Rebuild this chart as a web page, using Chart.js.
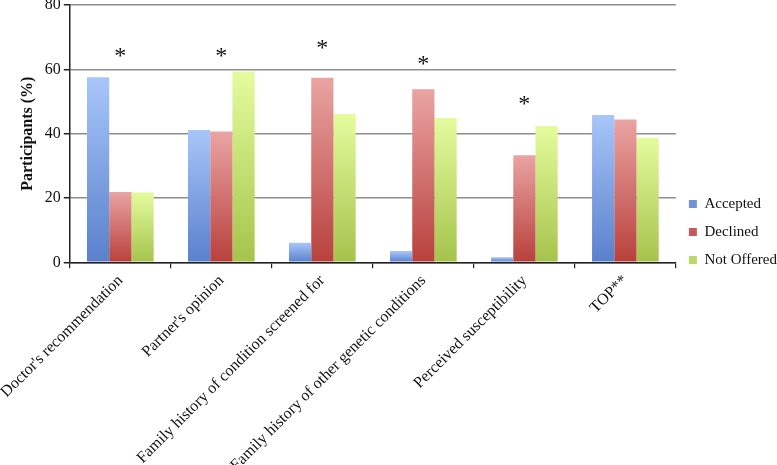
<!DOCTYPE html>
<html>
<head>
<meta charset="utf-8">
<script src="https://cdn.jsdelivr.net/npm/chart.js@4"></script>
<style>
  html, body { margin: 0; padding: 0; background: #fff; }
  #wrap { width: 777px; height: 465px; }
</style>
</head>
<body>
<div id="wrap"><canvas id="myChart"></canvas></div>
<script>
// donnees
const categories = [
  "Doctor's recommendation",
  "Partner's opinion",
  "Family history of condition screened for",
  "Family history of other genetic conditions",
  "Perceived susceptibility",
  "TOP**"
];
const accepted = [57.5, 41.1, 6.1, 3.5, 1.6, 45.8];
const declined = [21.9, 40.7, 57.4, 53.8, 33.3, 44.4];
const notOffered = [21.8, 59.3, 46.1, 44.9, 42.4, 38.7];
// position des asterisques (en %)
const starValues = [65.5, 65.5, 68, 63, 50.7, null];
const yTicks = [0, 20, 40, 60, 80];

const serif = "'Liberation Serif', 'DejaVu Serif', serif";

// degrade par barre : clair en haut, fonce en bas
function barGradient(top, bottom) {
  return function (ctx) {
    const chart = ctx.chart;
    const yScale = chart.scales.y;
    if (!yScale || ctx.parsed == null) return bottom;
    const y0 = yScale.getPixelForValue(ctx.parsed.y);
    const y1 = yScale.getPixelForValue(0);
    if (!isFinite(y0) || !isFinite(y1) || y0 === y1) return bottom;
    const g = chart.ctx.createLinearGradient(0, y0, 0, y1);
    g.addColorStop(0, top);
    g.addColorStop(1, bottom);
    return g;
  };
}

const starPlugin = {
  id: "stars",
  afterDatasetsDraw(chart) {
    const c = chart.ctx;
    c.save();
    c.fillStyle = "#111";
    c.font = "24px " + serif;
    c.textAlign = "center";
    c.textBaseline = "middle";
    starValues.forEach(function (v, i) {
      if (v == null) return;
      const x = chart.scales.x.getPixelForValue(i);
      const y = chart.scales.y.getPixelForValue(v);
      c.fillText("*", x, y + 5);
    });
    c.restore();
  }
};

const myChart = new Chart(document.getElementById("myChart"), {
  type: "bar",
  data: {
    labels: categories,
    datasets: [
      {
        label: "Accepted",
        data: accepted,
        backgroundColor: barGradient("#a8c6fa", "#5a80cc")
      },
      {
        label: "Declined",
        data: declined,
        backgroundColor: barGradient("#eaa4a3", "#b8403c")
      },
      {
        label: "Not Offered",
        data: notOffered,
        backgroundColor: barGradient("#e4fc9e", "#a6c34c")
      }
    ]
  },
  options: {
    responsive: true,
    maintainAspectRatio: false,
    animation: false,
    categoryPercentage: 0.66,
    barPercentage: 1.0,
    layout: { padding: { top: -14, right: -10, left: 0, bottom: -13 } },
    plugins: {
      tooltip: { enabled: false },
      legend: {
        position: "right",
        align: "center",
        labels: {
          boxWidth: 8,
          boxHeight: 8,
          padding: 13,
          color: "#111",
          font: { family: serif, size: 15 },
          generateLabels: function (chart) {
            const cols = ["#6f93da", "#c9585a", "#bcd86a"];
            return chart.data.datasets.map(function (ds, i) {
              return {
                text: ds.label,
                fillStyle: cols[i],
                strokeStyle: cols[i],
                lineWidth: 0,
                datasetIndex: i,
                fontColor: "#111"
              };
            });
          }
        }
      }
    },
    scales: {
      x: {
        afterFit: function (scale) {
          scale.paddingLeft = Math.max(0, scale.paddingLeft - 4);
        },
        grid: {
          drawOnChartArea: false,
          drawTicks: true,
          tickLength: 6,
          color: "#222",
          lineWidth: 1.2
        },
        border: { color: "#222", width: 1.5 },
        ticks: {
          autoSkip: false,
          minRotation: 45,
          maxRotation: 45,
          color: "#111",
          font: { family: serif, size: 16 }
        }
      },
      y: {
        min: 0,
        max: 80,
        afterBuildTicks: function (scale) {
          scale.ticks = yTicks.map(function (v) { return { value: v }; });
        },
        afterFit: function (scale) {
          scale.paddingTop = 5;
        },
        grid: {
          color: "#8e8e8e",
          lineWidth: 1.5,
          tickLength: 6,
          tickColor: "#222"
        },
        border: { color: "#222", width: 1.5 },
        ticks: {
          color: "#111",
          padding: 3,
          font: { family: serif, size: 16 }
        },
        title: {
          display: true,
          text: "Participants (%)",
          color: "#111",
          font: { family: serif, size: 16, weight: "bold" },
          padding: { top: 0, bottom: 4 }
        }
      }
    }
  },
  plugins: [starPlugin]
});
</script>
</body>
</html>
